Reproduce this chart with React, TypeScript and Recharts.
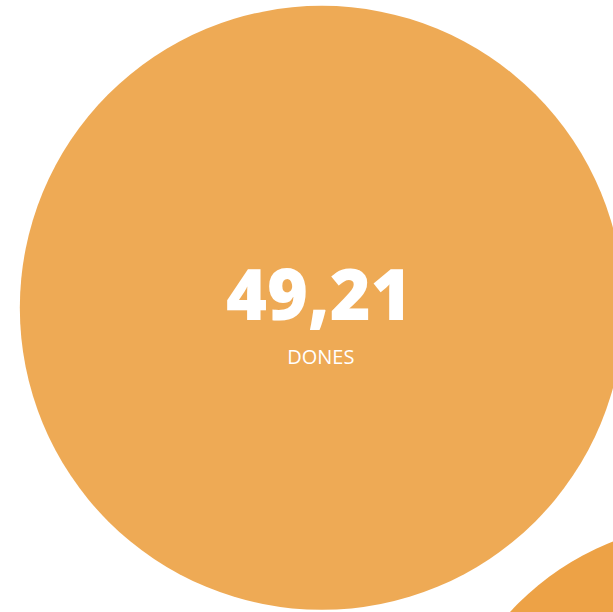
import React from "react";
import { Cell, ScatterChart, Scatter, XAxis, YAxis, ZAxis } from "recharts";

// bubble layout (abstract units) and values
const labels = ["DONES", "HOMES"];
const values = [49.21, 40.0];
const posX = [52.5, 116];
const posY = [49.7, -30];
const COLORS = ["#EEAA55", "#EDA246"];

const data = labels.map((label, i) => ({ label, x: posX[i], y: posY[i], value: values[i] }));
const maxValue = Math.max(...values);

const W = 613;
const H = 612;

const formatValue = (v: number) => v.toFixed(2).replace(".", ",");

const Bubble = (props: any) => {
  const { cx, cy, size, width, fill, payload } = props;
  const r = size ? Math.sqrt(size / Math.PI) : (width || 0) / 2;
  // labels of bubbles whose centre falls outside the view are not shown
  const showLabel = cx >= 0 && cx <= W && cy >= 0 && cy <= H;
  return (
    <g>
      <circle cx={cx} cy={cy} r={r} fill={fill} />
      {showLabel && (
        <text
          x={cx - 3}
          y={cy + 12}
          textAnchor="middle"
          fill="#ffffff"
          fontFamily="'Open Sans', sans-serif"
          fontWeight={800}
          fontSize={70}
        >
          {formatValue(payload.value)}
        </text>
      )}
      {showLabel && (
        <text
          x={cx - 1}
          y={cy + 56}
          textAnchor="middle"
          fill="#ffffff"
          fontFamily="'Open Sans', sans-serif"
          fontWeight={500}
          fontSize={20}
        >
          {payload.label}
        </text>
      )}
    </g>
  );
};

export default function App() {
  return (
    <div style={{ position: "fixed", left: 0, top: 0, width: W, height: H, overflow: "hidden", background: "#fff" }}>
      <ScatterChart width={W} height={H} margin={{ top: 0, right: 0, bottom: 0, left: 0 }}>
        <XAxis type="number" dataKey="x" domain={[0, 100]} allowDataOverflow hide />
        <YAxis type="number" dataKey="y" domain={[0, 100]} allowDataOverflow hide />
        <ZAxis type="number" dataKey="value" domain={[0, maxValue]} range={[0, Math.PI * 302 * 302]} />
        <Scatter data={data} shape={<Bubble />} isAnimationActive={false}>
          {data.map((d, i) => (
            <Cell key={`cell-${i}`} fill={COLORS[i % COLORS.length]} />
          ))}
        </Scatter>
      </ScatterChart>
    </div>
  );
}
